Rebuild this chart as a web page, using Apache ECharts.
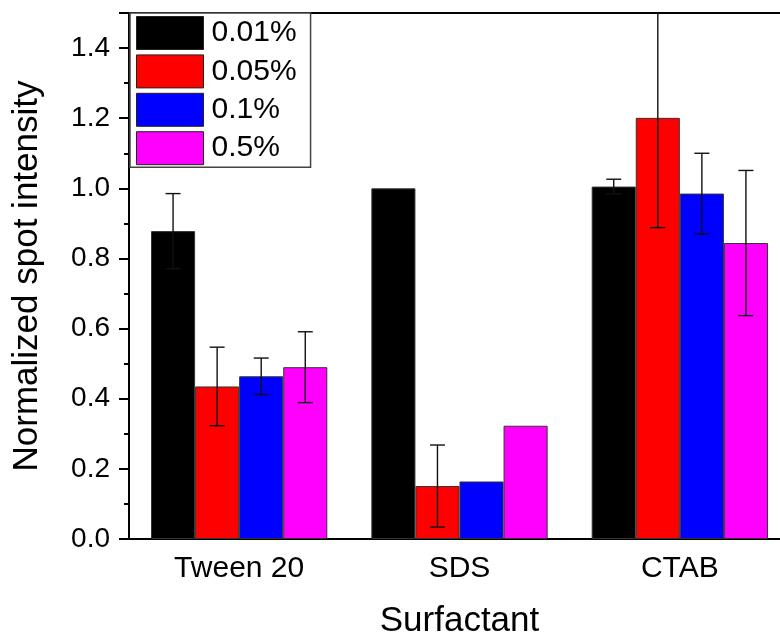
<!DOCTYPE html>
<html>
<head>
<meta charset="utf-8">
<style>
  html, body { margin: 0; padding: 0; background: #fff; }
  #chart { width: 780px; height: 636px; }
</style>
<script src="https://cdn.jsdelivr.net/npm/echarts@6/dist/echarts.min.js"></script>
</head>
<body>
<div id="chart"></div>
<script>
// Surfactant types on the x axis
const categories = ['Tween 20', 'SDS', 'CTAB'];

// Surfactant concentration groups
const seriesNames = ['0.01%', '0.05%', '0.1%', '0.5%'];
const seriesColors = ['#000000', '#ff0000', '#0000ff', '#ff00ff'];

// Normalized spot intensity (mean) per concentration
const v001 = [0.878, 1.000, 1.005];
const v005 = [0.435, 0.151, 1.201];
const v01  = [0.464, 0.164, 0.985];
const v05  = [0.490, 0.323, 0.844];

// Standard deviations (0 = no error bar shown)
const e001 = [0.107, 0, 0.021];
const e005 = [0.112, 0.117, 0.313];
const e01  = [0.052, 0, 0.115];
const e05  = [0.101, 0, 0.207];

// Y axis ticks
const yMin = 0, yMax = 1.5, yStep = 0.2;

const values = [v001, v005, v01, v05];
const errors = [e001, e005, e01, e05];

const FONT = "'Liberation Sans', Arial, sans-serif";
const GAP = 0.2;   // fraction of each category left empty

const chart = echarts.init(document.getElementById('chart'), null, { renderer: 'canvas' });

const barSeries = seriesNames.map((name, s) => ({
  name: name,
  type: 'bar',
  xAxisIndex: 0,
  barGap: '0%',
  barCategoryGap: (GAP * 100) + '%',
  itemStyle: { color: seriesColors[s], borderColor: '#333', borderWidth: 1 },
  emphasis: { disabled: true },
  data: values[s],
  z: 2
}));

// Error bars as one custom series, positioned within each category band
const errData = [];
values.forEach((arr, s) => {
  arr.forEach((v, i) => {
    if (errors[s][i] > 0) errData.push([i, v, errors[s][i], s]);
  });
});

const errSeries = {
  type: 'custom',
  xAxisIndex: 0,
  clip: true,
  silent: true,
  z: 5,
  data: errData,
  renderItem: function (params, api) {
    const idx = api.value(0), v = api.value(1), e = api.value(2), s = api.value(3);
    const band = api.size([1, 0])[0];
    const bw = band * (1 - GAP) / seriesNames.length;
    const c = api.coord([idx, v]);
    const x = c[0] + (s - (seriesNames.length - 1) / 2) * bw;
    const yHi = api.coord([idx, v + e])[1];
    const yLo = api.coord([idx, v - e])[1];
    const cap = 7.5;
    const st = { stroke: '#111', lineWidth: 1.4 };
    return {
      type: 'group',
      children: [
        { type: 'line', shape: { x1: x, y1: yHi, x2: x, y2: yLo }, style: st },
        { type: 'line', shape: { x1: x - cap, y1: yHi, x2: x + cap, y2: yHi }, style: st },
        { type: 'line', shape: { x1: x - cap, y1: yLo, x2: x + cap, y2: yLo }, style: st }
      ]
    };
  }
};

const option = {
  animation: false,
  backgroundColor: '#ffffff',
  textStyle: { fontFamily: FONT },
  grid: {
    left: 129, top: 13, width: 661, height: 526,
    outerBoundsMode: 'none',
    containLabel: false,
    show: true, borderColor: '#000', borderWidth: 2, backgroundColor: 'transparent'
  },
  legend: {
    orient: 'vertical',
    left: 130, top: 13,
    padding: [3, 14, 2, 6],
    itemWidth: 67, itemHeight: 33, itemGap: 4.4,
    backgroundColor: '#fff',
    borderColor: '#444', borderWidth: 1.5,
    borderRadius: 0,
    icon: 'rect',
    itemStyle: { borderColor: '#222', borderWidth: 1 },
    textStyle: { fontSize: 30, color: '#000', fontFamily: FONT, padding: [0, 0, 0, 3] },
    data: seriesNames
  },
  xAxis: [
    {
      type: 'category',
      data: categories,
      position: 'bottom',
      name: 'Surfactant',
      nameLocation: 'middle',
      nameGap: 65,
      nameTextStyle: { fontSize: 35, color: '#000', fontFamily: FONT },
      axisLine: { lineStyle: { color: '#000', width: 2 } },
      axisTick: { alignWithLabel: true, length: 9, lineStyle: { color: '#000', width: 2 } },
      axisLabel: { fontSize: 30, color: '#000', margin: 15, fontFamily: FONT },
      splitLine: { show: false }
    },
    {
      // boundary ticks between categories
      type: 'category',
      data: categories,
      position: 'bottom',
      axisLine: { show: false },
      axisTick: { length: 4, lineStyle: { color: '#000', width: 2 } },
      axisLabel: { show: false },
      splitLine: { show: false }
    }
  ],
  yAxis: {
    type: 'value',
    min: yMin, max: yMax, interval: yStep,
    name: 'Normalized spot intensity',
    nameLocation: 'middle',
    nameGap: 84,
    nameTextStyle: { fontSize: 35, color: '#000', fontFamily: FONT },
    axisLine: { show: true, lineStyle: { color: '#000', width: 2 } },
    axisTick: { show: true, length: 10, lineStyle: { color: '#000', width: 2 } },
    minorTick: { show: true, splitNumber: 2, length: 5, lineStyle: { color: '#000', width: 2 } },
    axisLabel: {
      fontSize: 28, color: '#000', margin: 19, fontFamily: FONT,
      formatter: function (v) { return v > yMax - yStep / 2 ? '' : v.toFixed(1); }
    },
    splitLine: { show: false }
  },
  series: barSeries.concat([errSeries])
};

chart.setOption(option);
</script>
</body>
</html>
